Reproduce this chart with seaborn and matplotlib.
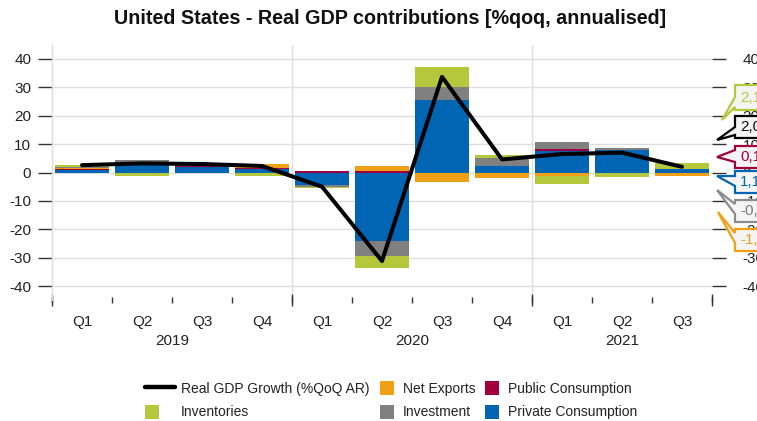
import numpy as np
import pandas as pd
import matplotlib
matplotlib.use("Agg")
import matplotlib.pyplot as plt
import seaborn as sns
from matplotlib.patches import Polygon, Rectangle, Patch
from matplotlib.lines import Line2D
from matplotlib.legend_handler import HandlerPatch

# ---------------- data ----------------
quarters = ["Q1", "Q2", "Q3", "Q4", "Q1", "Q2", "Q3", "Q4", "Q1", "Q2", "Q3"]
years = ["2019"] * 4 + ["2020"] * 4 + ["2021"] * 3
gdp_growth = [2.6, 3.2, 3.0, 2.3, -5.0, -31.2, 33.7, 4.6, 6.5, 7.0, 2.0]
private_consumption = [0.8, 2.6, 2.1, 1.2, -4.5, -24.0, 25.5, 2.3, 7.6, 8.0, 1.1]
public_consumption = [0.4, 0.4, 0.3, 0.4, 0.4, 0.6, -0.1, -0.1, 0.7, -0.2, 0.1]
net_exports = [0.5, -0.2, -0.1, 1.4, 0.1, 1.8, -3.2, -1.7, -1.3, -0.1, -1.1]
investment = [0.3, 1.4, 0.4, -0.2, -0.5, -5.6, 4.7, 2.7, 2.3, 0.6, -0.2]
inventories = [0.5, -0.9, -0.1, -1.0, -0.6, -3.9, 7.1, 1.2, -2.7, -1.3, 2.1]
yticks = [-40, -30, -20, -10, 0, 10, 20, 30, 40]

title = "United States - Real GDP contributions [%qoq, annualised]"
gdp_label = "Real GDP Growth (%QoQ AR)"
series_names = ["Private Consumption", "Public Consumption", "Net Exports",
                "Investment", "Inventories"]
series_values = [private_consumption, public_consumption, net_exports,
                 investment, inventories]
colors = {"Private Consumption": "#0066b3", "Public Consumption": "#a0003c",
          "Net Exports": "#f0a014", "Investment": "#808080",
          "Inventories": "#b5c83c", "GDP": "#000000"}

# ---------------- figure ----------------
sns.set_theme(style="white")
plt.rcParams["font.family"] = ["Liberation Sans", "DejaVu Sans"]
TXT = "#222222"

W, H = 757, 421
fig = plt.figure(figsize=(W / 100, H / 100), dpi=100)
ax_top, ax_bot = 44.8, 300.2
ax = fig.add_axes([52 / W, (H - ax_bot) / H, (712 - 52) / W, (ax_bot - ax_top) / H])

n = len(quarters)
x = np.arange(n)

# stacked bars (positive and negative stacks separately)
pos = np.zeros(n)
neg = np.zeros(n)
for name, vals in zip(series_names, series_values):
    v = np.array(vals, dtype=float)
    bottom = np.where(v >= 0, pos, neg)
    ax.bar(x, v, bottom=bottom, width=0.9, color=colors[name], linewidth=0, zorder=3)
    pos = pos + np.where(v >= 0, v, 0)
    neg = neg + np.where(v < 0, v, 0)

df = pd.DataFrame({"x": x, "gdp": gdp_growth})
sns.lineplot(data=df, x="x", y="gdp", ax=ax, color="black", linewidth=2.9,
             sort=False, zorder=5)

ax.set_xlim(-0.5, n - 0.5)
ax.set_ylim(-45, 45)
ax.set_yticks(yticks)
ax.set_yticklabels([str(t) for t in yticks])
ax.grid(axis="y", color="#dedede", linewidth=1, zorder=0)
ax.set_xlabel("")
ax.set_ylabel("")

for s in ["top", "right", "bottom"]:
    ax.spines[s].set_visible(False)
ax.spines["left"].set_color("#dcdcdc")
ax.spines["left"].set_linewidth(1)

ax.tick_params(axis="y", which="major", left=True, length=10, width=1,
               color="#333333", labelsize=11, labelcolor=TXT, pad=5)

# x axis: quarter labels at centres, small ticks at boundaries
ax.set_xticks(x)
ax.set_xticklabels(quarters)
ax.tick_params(axis="x", which="major", length=0, labelsize=11,
               labelcolor=TXT, pad=11)
ax.set_xticks(np.arange(-0.5, n, 1.0), minor=True)
ax.tick_params(axis="x", which="minor", bottom=True, length=4, width=1,
               color="#333333", direction="inout")

# year groups
year_order = list(dict.fromkeys(years))
bounds = [-0.5]
for yv in year_order:
    idx = [i for i, yy in enumerate(years) if yy == yv]
    bounds.append(max(idx) + 0.5)
    ax.text(np.mean(idx), -0.16, yv, transform=ax.get_xaxis_transform(),
            ha="center", va="center", fontsize=11, color=TXT)
for b in bounds[1:-1]:
    ax.axvline(b, color="#dedede", linewidth=1, zorder=0)
sec = ax.secondary_xaxis("bottom")
sec.set_xticks(bounds)
sec.set_xticklabels([""] * len(bounds))
sec.tick_params(length=9, width=1, color="#333333", direction="inout")
sec.spines["bottom"].set_visible(False)

# right axis
ax2 = ax.twinx()
ax2.set_ylim(ax.get_ylim())
ax2.set_yticks(yticks)
ax2.set_yticklabels([str(t) for t in yticks])
ax2.grid(False)
for s in ax2.spines.values():
    s.set_visible(False)
ax2.tick_params(axis="y", right=True, length=10, width=1, color="#333333",
                labelsize=11, labelcolor=TXT, pad=12)

# title
fig.text(390 / W, 1 - 19 / H, title, ha="center", va="center", fontsize=14.2,
         fontweight="bold", color="#111111")


# ---------------- legend ----------------
class SquareHandler(HandlerPatch):
    def create_artists(self, legend, orig_handle, xdescent, ydescent, width,
                       height, fontsize, trans):
        r = Rectangle((-xdescent, -ydescent), height, height,
                      facecolor=orig_handle.get_facecolor(), edgecolor="none",
                      transform=trans)
        return [r]


def patch(name):
    return Patch(facecolor=colors[name], edgecolor="none")


leg_kw = dict(frameon=False, fontsize=10, borderpad=0, borderaxespad=0,
              labelspacing=0.68, handleheight=1.13, labelcolor=TXT,
              loc="upper left")
anchor_y = 1 - 381 / H
l1 = fig.legend([Line2D([], [], color="black", lw=3.2), patch("Inventories")],
                [gdp_label, "Inventories"], handlelength=2.16,
                handletextpad=0.43, bbox_to_anchor=(145 / W, anchor_y),
                handler_map={Patch: SquareHandler()}, **leg_kw)
l2 = fig.legend([patch("Net Exports"), patch("Investment")],
                ["Net Exports", "Investment"], handlelength=1.13,
                handletextpad=0.5, bbox_to_anchor=(380 / W, anchor_y),
                handler_map={Patch: SquareHandler()}, **leg_kw)
l3 = fig.legend([patch("Public Consumption"), patch("Private Consumption")],
                ["Public Consumption", "Private Consumption"], handlelength=1.13,
                handletextpad=0.5, bbox_to_anchor=(485 / W, anchor_y),
                handler_map={Patch: SquareHandler()}, **leg_kw)


# ---------------- callout labels (last values) ----------------
def fmt(v):
    return f"{v:.1f}".replace(".", ",")


last = n - 1
callouts = [
    (inventories[last], colors["Inventories"], colors["Inventories"], (85, 110, 97, 107, 722, 120)),
    (gdp_growth[last], "#000000", "#111111", (116, 138, 127, 135, 717, 140)),
    (public_consumption[last], colors["Public Consumption"], colors["Public Consumption"], (146, 168, 150, 162, 717, 157)),
    (private_consumption[last], colors["Private Consumption"], colors["Private Consumption"], (171, 193, 176, 186, 717, 176)),
    (investment[last], "#8c8c8c", "#7a7a7a", (200, 222, 204, 214, 717, 190)),
    (net_exports[last], colors["Net Exports"], colors["Net Exports"], (229, 251, 233, 243, 718, 212)),
]
for val, ec, tc, (top, bot, b1, b2, tx, ty) in callouts:
    x0, x1 = 735, 790
    pts = [(x0, top), (x1, top), (x1, bot), (x0, bot), (x0, b2), (tx, ty), (x0, b1)]
    pts = [(px / W, 1 - py / H) for px, py in pts]
    poly = Polygon(pts, closed=True, transform=fig.transFigure, facecolor="#f4f4f4",
                   edgecolor=ec, linewidth=1.6, zorder=10, clip_on=False)
    fig.add_artist(poly)
    fig.text(740 / W, 1 - (top + bot) / 2 / H, fmt(val), color=tc, ha="left",
             va="center", fontsize=11, zorder=11)

fig.savefig("out.png", dpi=100)
